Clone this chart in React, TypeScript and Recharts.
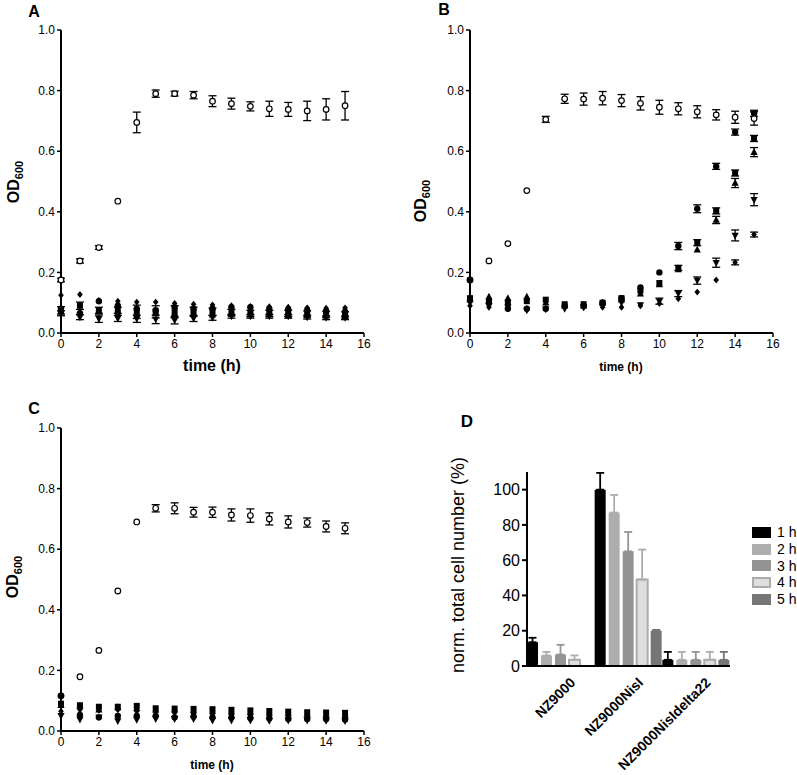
import React from 'react';
import { ScatterChart, Scatter, XAxis, YAxis, ErrorBar, BarChart, Bar, Legend } from 'recharts';

const FONT = '"Liberation Sans", Arial, Helvetica, sans-serif';

const TIME = [0, 1, 2, 3, 4, 5, 6, 7, 8, 9, 10, 11, 12, 13, 14, 15];
const X_TICKS = [0, 2, 4, 6, 8, 10, 12, 14, 16];
const Y_TICKS = [0, 0.2, 0.4, 0.6, 0.8, 1.0];

// Panel A
const A_OPEN = [0.175, 0.238, 0.282, 0.435, 0.695, 0.79, 0.79, 0.785, 0.765, 0.757, 0.748, 0.74, 0.738, 0.733, 0.738, 0.75];
const A_OPEN_ERR = [0.006, 0.007, 0.006, 0, 0.034, 0.012, 0.008, 0.012, 0.018, 0.018, 0.015, 0.025, 0.023, 0.032, 0.035, 0.047];
const A_DIAMOND = [0.125, 0.127, 0.108, 0.105, 0.102, 0.102, 0.098, 0.095, 0.093, 0.09, 0.088, 0.087, 0.085, 0.083, 0.082, 0.083];
const A_CIRCLE = [0.08, 0.065, 0.105, 0.09, 0.08, 0.075, 0.085, 0.08, 0.08, 0.085, 0.085, 0.08, 0.078, 0.075, 0.072, 0.07];
const A_SQUARE = [0.075, 0.09, 0.075, 0.075, 0.07, 0.07, 0.07, 0.07, 0.07, 0.068, 0.065, 0.065, 0.065, 0.063, 0.062, 0.06];
const A_SQUARE_ERR = [0.012, 0.012, 0.01, 0.01, 0.022, 0.02, 0.02, 0.015, 0.012, 0.01, 0.01, 0.01, 0.01, 0.01, 0.01, 0.01];
const A_TRI_UP = [0.07, 0.07, 0.07, 0.065, 0.065, 0.065, 0.065, 0.065, 0.06, 0.062, 0.06, 0.06, 0.058, 0.058, 0.056, 0.055];
const A_TRI_DOWN = [0.065, 0.052, 0.047, 0.048, 0.047, 0.045, 0.042, 0.048, 0.05, 0.055, 0.055, 0.055, 0.055, 0.052, 0.05, 0.05];
const A_TRI_DOWN_ERR = [0.008, 0.008, 0.012, 0.01, 0.012, 0.014, 0.012, 0.01, 0.008, 0.006, 0.006, 0.006, 0.006, 0.006, 0.006, 0.006];

// Panel B
const B_OPEN = [0.175, 0.238, 0.295, 0.47, 0.705, 0.773, 0.772, 0.775, 0.767, 0.758, 0.745, 0.74, 0.73, 0.72, 0.712, 0.708];
const B_OPEN_ERR = [0, 0, 0, 0, 0.01, 0.015, 0.02, 0.022, 0.02, 0.022, 0.023, 0.02, 0.02, 0.017, 0.02, 0.022];
const B_CIRCLE = [0.175, 0.1, 0.08, 0.08, 0.08, 0.09, 0.09, 0.1, 0.115, 0.15, 0.2, 0.287, 0.41, 0.55, 0.663, 0.725];
const B_CIRCLE_ERR = [0, 0, 0, 0, 0, 0, 0, 0, 0, 0, 0, 0.012, 0.013, 0.01, 0.01, 0.01];
const B_SQUARE = [0.115, 0.105, 0.1, 0.105, 0.11, 0.095, 0.095, 0.1, 0.115, 0.14, 0.165, 0.215, 0.298, 0.403, 0.528, 0.642];
const B_SQUARE_ERR = [0, 0, 0, 0, 0, 0, 0, 0, 0, 0, 0, 0.008, 0.01, 0.01, 0.01, 0.01];
const B_TRI_UP = [0.11, 0.12, 0.115, 0.12, 0.1, 0.09, 0.09, 0.1, 0.11, 0.13, 0.16, 0.21, 0.275, 0.373, 0.495, 0.597];
const B_TRI_UP_ERR = [0, 0, 0, 0, 0, 0, 0, 0, 0, 0, 0, 0, 0, 0.012, 0.015, 0.015];
const B_TRI_DOWN = [0.1, 0.09, 0.085, 0.075, 0.078, 0.08, 0.085, 0.09, 0.1, 0.092, 0.105, 0.13, 0.173, 0.232, 0.322, 0.44];
const B_TRI_DOWN_ERR = [0, 0, 0, 0, 0, 0, 0, 0, 0, 0, 0.01, 0.01, 0.012, 0.015, 0.018, 0.02];
const B_DIAMOND = [0.09, 0.085, 0.08, 0.08, 0.08, 0.085, 0.085, 0.085, 0.085, 0.09, 0.097, 0.113, 0.135, 0.175, 0.233, 0.325];
const B_DIAMOND_ERR = [0, 0, 0, 0, 0, 0, 0, 0, 0, 0, 0, 0, 0, 0, 0.008, 0.008];

// Panel C
const C_OPEN = [0.116, 0.179, 0.266, 0.462, 0.69, 0.735, 0.735, 0.722, 0.722, 0.713, 0.711, 0.7, 0.69, 0.688, 0.675, 0.669];
const C_OPEN_ERR = [0, 0, 0, 0, 0, 0.012, 0.018, 0.016, 0.017, 0.02, 0.022, 0.02, 0.02, 0.015, 0.018, 0.018];
const C_SQUARE = [0.09, 0.085, 0.08, 0.08, 0.083, 0.075, 0.074, 0.073, 0.072, 0.07, 0.068, 0.066, 0.064, 0.062, 0.061, 0.06];
const C_TRI_UP = [0.085, 0.082, 0.07, 0.078, 0.075, 0.07, 0.07, 0.068, 0.066, 0.064, 0.062, 0.06, 0.058, 0.056, 0.055, 0.054];
const C_DIAMOND = [0.065, 0.07, 0.068, 0.07, 0.065, 0.062, 0.06, 0.058, 0.056, 0.055, 0.053, 0.052, 0.05, 0.048, 0.047, 0.046];
const C_CIRCLE = [0.116, 0.053, 0.045, 0.05, 0.05, 0.05, 0.045, 0.048, 0.045, 0.045, 0.043, 0.042, 0.04, 0.04, 0.04, 0.038];
const C_TRI_DOWN = [0.05, 0.038, 0.045, 0.033, 0.037, 0.04, 0.04, 0.04, 0.035, 0.035, 0.035, 0.034, 0.035, 0.035, 0.034, 0.033];

// Panel D
const STRAINS = ['NZ9000', 'NZ9000NisI', 'NZ9000NisIdelta22'];
const HOURS = ['1 h', '2 h', '3 h', '4 h', '5 h'];
const H1 = [13.5, 100, 3.5];
const H1_ERR = [2.5, 9.5, 4.5];
const H2 = [6, 87, 3.5];
const H2_ERR = [2, 10, 4.5];
const H3 = [6.5, 65, 3.5];
const H3_ERR = [5.5, 11, 4.5];
const H4 = [3.5, 49, 3.5];
const H4_ERR = [2.5, 17, 4.5];
const H5 = [0, 20, 3.5];
const H5_ERR = [0, 0.5, 4.5];
const D_TICKS = [0, 20, 40, 60, 80, 100];

const BAR_FILL = ['#000000', '#adadad', '#949494', '#dedede', '#767676'];
const BAR_STROKE = ['#000000', '#adadad', '#949494', '#acacac', '#767676'];

type Kind = 'open' | 'circle' | 'square' | 'triUp' | 'triDown' | 'diamond';

const makeShape = (kind: Kind) => (props: any) => {
  const { cx, cy } = props;
  if (cx == null || cy == null) return <g />;
  switch (kind) {
    case 'open':
      return <circle cx={cx} cy={cy} r={2.8} fill="#fff" stroke="#000" strokeWidth={1.2} />;
    case 'circle':
      return <circle cx={cx} cy={cy} r={3.2} fill="#000" />;
    case 'square':
      return <rect x={cx - 3} y={cy - 3} width={6} height={6} fill="#000" />;
    case 'triUp':
      return <polygon points={`${cx},${cy - 4} ${cx - 3.6},${cy + 2.8} ${cx + 3.6},${cy + 2.8}`} fill="#000" />;
    case 'triDown':
      return <polygon points={`${cx},${cy + 4} ${cx - 3.6},${cy - 2.8} ${cx + 3.6},${cy - 2.8}`} fill="#000" />;
    case 'diamond':
      return <polygon points={`${cx},${cy - 3.4} ${cx + 2.8},${cy} ${cx},${cy + 3.4} ${cx - 2.8},${cy}`} fill="#000" />;
  }
  return <g />;
};

const build = (vals: number[], errs?: number[]) =>
  TIME.map((t, i) => ({ t, v: vals[i], e: errs && errs[i] ? errs[i] : null }));

type Series = { kind: Kind; vals: number[]; errs?: number[] };

const PANEL_A: Series[] = [
  { kind: 'diamond', vals: A_DIAMOND },
  { kind: 'circle', vals: A_CIRCLE },
  { kind: 'square', vals: A_SQUARE, errs: A_SQUARE_ERR },
  { kind: 'triUp', vals: A_TRI_UP },
  { kind: 'triDown', vals: A_TRI_DOWN, errs: A_TRI_DOWN_ERR },
  { kind: 'open', vals: A_OPEN, errs: A_OPEN_ERR },
];
const PANEL_B: Series[] = [
  { kind: 'open', vals: B_OPEN, errs: B_OPEN_ERR },
  { kind: 'diamond', vals: B_DIAMOND, errs: B_DIAMOND_ERR },
  { kind: 'triDown', vals: B_TRI_DOWN, errs: B_TRI_DOWN_ERR },
  { kind: 'triUp', vals: B_TRI_UP, errs: B_TRI_UP_ERR },
  { kind: 'square', vals: B_SQUARE, errs: B_SQUARE_ERR },
  { kind: 'circle', vals: B_CIRCLE, errs: B_CIRCLE_ERR },
];
const PANEL_C: Series[] = [
  { kind: 'open', vals: C_OPEN, errs: C_OPEN_ERR },
  { kind: 'square', vals: C_SQUARE },
  { kind: 'triUp', vals: C_TRI_UP },
  { kind: 'diamond', vals: C_DIAMOND },
  { kind: 'circle', vals: C_CIRCLE },
  { kind: 'triDown', vals: C_TRI_DOWN },
];

const tickStyle = { fill: '#000', fontSize: 12, fontFamily: FONT };

function OdChart(props: {
  left: number; top: number; width: number; height: number;
  margin: { top: number; right: number; bottom: number; left: number };
  series: Series[];
}) {
  const { left, top, width, height, margin, series } = props;
  return (
    <div style={{ position: 'absolute', left, top }}>
      <ScatterChart width={width} height={height} margin={margin}>
        <XAxis
          type="number" dataKey="t" domain={[0, 16]} ticks={X_TICKS} interval={0}
          height={30} tick={tickStyle} tickSize={4}
          axisLine={{ stroke: '#000', strokeWidth: 2 }} tickLine={{ stroke: '#000', strokeWidth: 1.5 }}
        />
        <YAxis
          type="number" dataKey="v" domain={[0, 1]} ticks={Y_TICKS} interval={0}
          width={41} tick={tickStyle} tickSize={4}
          tickFormatter={(v: number) => v.toFixed(1)}
          axisLine={{ stroke: '#000', strokeWidth: 2 }} tickLine={{ stroke: '#000', strokeWidth: 1.5 }}
        />
        {series.map((s, i) => (
          <Scatter key={i} data={build(s.vals, s.errs)} shape={makeShape(s.kind)} isAnimationActive={false}>
            {s.errs ? (
              <ErrorBar dataKey="e" direction="y" width={4} stroke="#000" strokeWidth={1.3} isAnimationActive={false} />
            ) : null}
          </Scatter>
        ))}
      </ScatterChart>
    </div>
  );
}

const barData = STRAINS.map((name, i) => ({
  name,
  h1: H1[i], h1e: H1_ERR[i] ? [0, H1_ERR[i]] : null,
  h2: H2[i], h2e: H2_ERR[i] ? [0, H2_ERR[i]] : null,
  h3: H3[i], h3e: H3_ERR[i] ? [0, H3_ERR[i]] : null,
  h4: H4[i], h4e: H4_ERR[i] ? [0, H4_ERR[i]] : null,
  h5: H5[i], h5e: H5_ERR[i] ? [0, H5_ERR[i]] : null,
}));

const CatTick = (props: any) => {
  const { x, y, payload } = props;
  return (
    <g transform={`translate(${x + 8},${y + 2}) rotate(-45)`}>
      <text x={0} y={0} dy="0.75em" textAnchor="end" fill="#000" fontSize={14} fontWeight="bold" fontFamily={FONT}>
        {payload.value}
      </text>
    </g>
  );
};

const LegendBox = () => (
  <div style={{ fontFamily: FONT, fontSize: 14, color: '#000', whiteSpace: 'nowrap', width: 45 }}>
    {HOURS.map((h, i) => (
      <div key={h} style={{ display: 'flex', alignItems: 'center', height: 16.7, whiteSpace: 'nowrap' }}>
        <span
          style={{
            display: 'inline-block', flex: '0 0 19px', boxSizing: 'border-box', width: 19, height: 11,
            background: BAR_FILL[i], border: i === 3 ? `2px solid ${BAR_STROKE[i]}` : 'none',
          }}
        />
        <span style={{ marginLeft: 6, lineHeight: '14px', whiteSpace: 'nowrap' }}>{h}</span>
      </div>
    ))}
  </div>
);

const labelStyle = (x: number, y: number, size: number, bold = true, rotate = false): React.CSSProperties => ({
  position: 'absolute', left: x, top: y, fontFamily: FONT, fontSize: size,
  fontWeight: bold ? 'bold' : 'normal', color: '#000', whiteSpace: 'nowrap',
  transform: `translate(-50%, -50%)${rotate ? ' rotate(-90deg)' : ''}`, lineHeight: 1,
});

const OD = ({ x, y }: { x: number; y: number }) => (
  <div style={labelStyle(x, y, 16, true, true)}>
    OD<sub style={{ fontSize: 11, verticalAlign: 'baseline', position: 'relative', top: 4 }}>600</sub>
  </div>
);

export default function App() {
  const hours = ['h1', 'h2', 'h3', 'h4', 'h5'];
  return (
    <div style={{ position: 'absolute', left: 0, top: 0, width: 797, height: 775, background: '#fff', overflow: 'hidden' }}>
      <OdChart left={0} top={0} width={400} height={390} margin={{ top: 30, right: 36, bottom: 27, left: 20 }} series={PANEL_A} />
      <OdChart left={400} top={0} width={397} height={390} margin={{ top: 30, right: 24, bottom: 27, left: 29 }} series={PANEL_B} />
      <OdChart left={0} top={390} width={400} height={385} margin={{ top: 38, right: 36, bottom: 14, left: 20 }} series={PANEL_C} />

      <div style={{ position: 'absolute', left: 400, top: 390 }}>
        <BarChart width={397} height={385} data={barData} margin={{ top: 82, right: 22, bottom: 29, left: 87 }}
          barSize={11} barGap={3}>
          <XAxis dataKey="name" height={80} interval={0} tick={<CatTick />} tickLine={false}
            axisLine={{ stroke: '#000', strokeWidth: 2 }} />
          <YAxis type="number" domain={[0, 110]} ticks={D_TICKS} interval={0} width={40} tickSize={5}
            tick={{ fill: '#000', fontSize: 16, fontFamily: FONT }}
            axisLine={{ stroke: '#000', strokeWidth: 2 }} tickLine={{ stroke: '#000', strokeWidth: 2 }} />
          <Legend content={<LegendBox />} layout="horizontal" verticalAlign="middle" align="right"
            wrapperStyle={{ left: 352, top: 134, width: 45, right: 'auto' }} />
          {hours.map((k, i) => (
            <Bar key={k} dataKey={k} name={HOURS[i]} fill={BAR_FILL[i]} stroke={i === 3 ? BAR_STROKE[i] : 'none'}
              strokeWidth={i === 3 ? 2 : 0} isAnimationActive={false}>
              <ErrorBar dataKey={`${k}e`} direction="y" width={4} stroke={BAR_STROKE[i]} strokeWidth={1.8} isAnimationActive={false} />
            </Bar>
          ))}
        </BarChart>
      </div>

      <div style={labelStyle(34, 12, 16)}>A</div>
      <div style={labelStyle(444, 10, 16)}>B</div>
      <div style={labelStyle(34, 409, 16)}>C</div>
      <div style={labelStyle(467, 421, 17)}>D</div>

      <OD x={14} y={182} />
      <OD x={421} y={201} />
      <OD x={13} y={577} />

      <div style={labelStyle(212, 366, 16)}>time (h)</div>
      <div style={labelStyle(621, 367, 12)}>time (h)</div>
      <div style={labelStyle(212, 765, 12)}>time (h)</div>

      <div style={labelStyle(458, 565, 18, false, true)}>norm. total cell number (%)</div>
    </div>
  );
}
